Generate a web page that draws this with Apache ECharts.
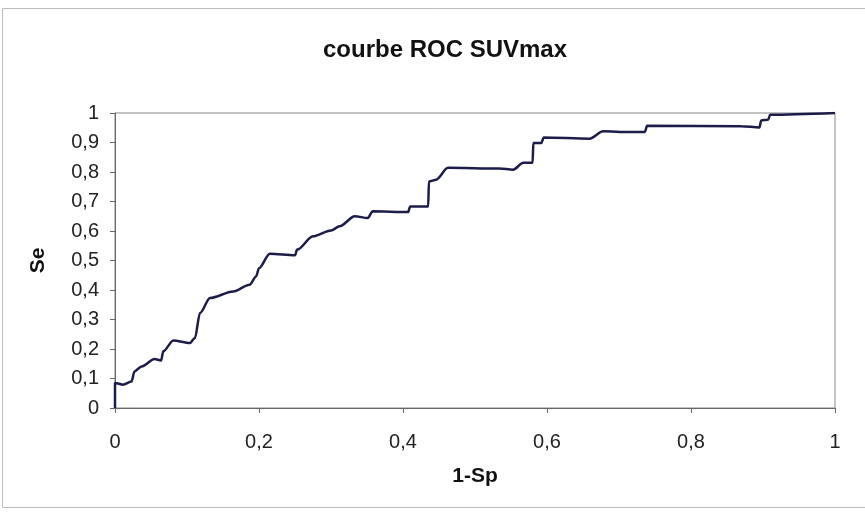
<!DOCTYPE html>
<html lang="fr">
<head>
    <meta charset="UTF-8">
    <title>courbe ROC SUVmax</title>
    <script type="text/javascript" src="https://cdn.jsdelivr.net/npm/echarts@6/dist/echarts.min.js"></script>
    <style>
        html, body { margin: 0; padding: 0; background: #fff; }
    </style>
</head>
<body>
    <div id="main" style="width: 865px;height:512px;"></div>
    <script type="text/javascript">
        // 1-Sp (x) and Se (y)
        var oneMinusSp = [0, 0, 0.011, 0.023, 0.027, 0.037, 0.055, 0.064, 0.067, 0.081,
            0.104, 0.111, 0.118, 0.132, 0.164, 0.187, 0.196, 0.200, 0.215, 0.250,
            0.253, 0.275, 0.300, 0.312, 0.333, 0.351, 0.358, 0.407, 0.410, 0.435,
            0.436, 0.446, 0.4625, 0.534, 0.553, 0.567, 0.580, 0.581, 0.592, 0.5955,
            0.659, 0.678, 0.701, 0.736, 0.739, 0.870, 0.895, 0.8975, 0.907, 0.910, 1];
        var se = [0, 0.085, 0.079, 0.090, 0.124, 0.141, 0.166, 0.161, 0.192, 0.229,
            0.220, 0.237, 0.322, 0.373, 0.395, 0.418, 0.446, 0.474, 0.523, 0.518,
            0.537, 0.582, 0.602, 0.616, 0.650, 0.644, 0.667, 0.664, 0.683, 0.683,
            0.768, 0.774, 0.814, 0.812, 0.808, 0.831, 0.831, 0.898, 0.898, 0.917,
            0.913, 0.938, 0.936, 0.936, 0.957, 0.955, 0.951, 0.975, 0.977, 0.994, 1];

        var points = oneMinusSp.map(function (x, i) { return [x, se[i]]; });
        var font = 'Arial, "Liberation Sans", sans-serif';
        var comma = function (v) { return String(Math.round(v * 10) / 10).replace('.', ','); };

        var myChart = echarts.init(document.getElementById('main'));
        var option = {
            backgroundColor: '#fff',
            animation: false,
            title: {
                text: 'courbe ROC SUVmax',
                left: 318,
                top: 33,
                textStyle: { fontFamily: font, fontSize: 24, fontWeight: 'bold', color: '#111' }
            },
            graphic: [{
                type: 'rect',
                shape: { x: 2.5, y: 8.5, width: 880, height: 499 },
                style: { fill: 'none', stroke: '#bbb', lineWidth: 1 }
            }],
            grid: {
                left: 115, right: 30, top: 113, bottom: 104,
                show: true, borderColor: '#888', borderWidth: 1
            },
            xAxis: {
                type: 'value',
                min: 0, max: 1, interval: 0.2,
                name: '1-Sp',
                nameLocation: 'middle',
                nameGap: 58,
                nameTextStyle: { fontFamily: font, fontSize: 21, fontWeight: 'bold', color: '#111' },
                axisLine: { lineStyle: { color: '#666' } },
                axisTick: { show: true, length: 5, lineStyle: { color: '#666' } },
                axisLabel: { fontFamily: font, fontSize: 20, color: '#222', margin: 24, formatter: comma },
                splitLine: { show: false }
            },
            yAxis: {
                type: 'value',
                min: 0, max: 1, interval: 0.1,
                name: 'Se',
                nameLocation: 'middle',
                nameGap: 66,
                nameTextStyle: { fontFamily: font, fontSize: 21, fontWeight: 'bold', color: '#111' },
                axisLine: { show: true, lineStyle: { color: '#666' } },
                axisTick: { show: true, length: 5, lineStyle: { color: '#666' } },
                axisLabel: { fontFamily: font, fontSize: 20, color: '#222', margin: 16, formatter: comma },
                splitLine: { show: false }
            },
            series: [{
                type: 'line',
                data: points,
                showSymbol: false,
                smooth: 0.3,
                smoothMonotone: 'x',
                lineStyle: { color: '#1c1c4a', width: 2.5 }
            }]
        };
        myChart.setOption(option);
    </script>
</body>
</html>
